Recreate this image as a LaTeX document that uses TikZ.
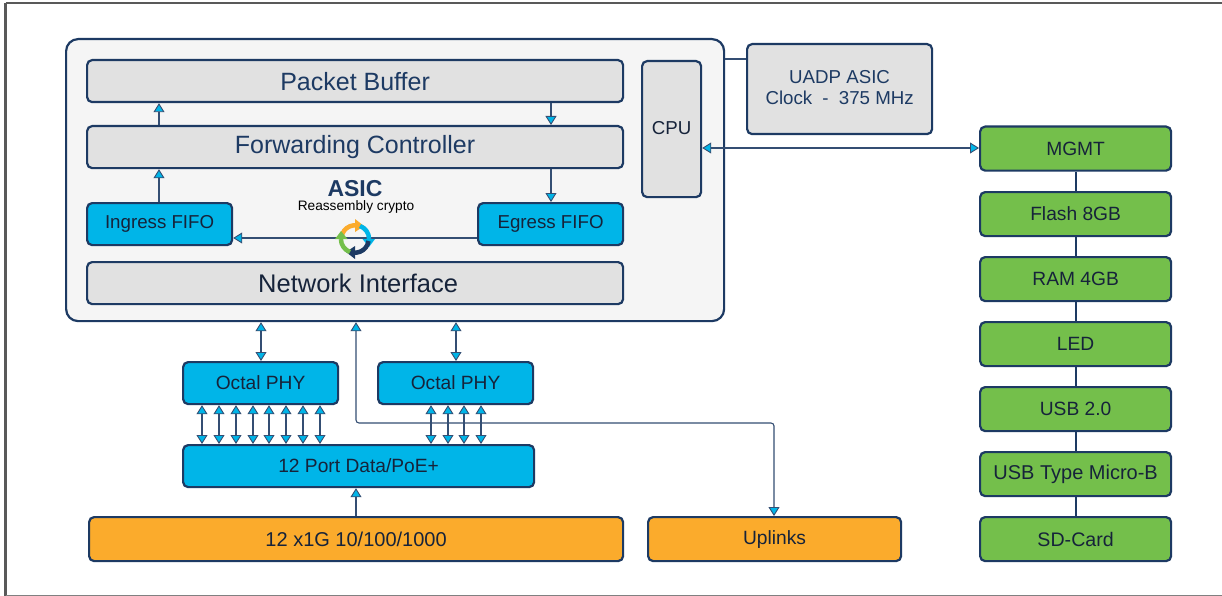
\documentclass[tikz,border=0pt]{standalone}
\usepackage{fontspec}
\setmainfont{Liberation Sans}
\usetikzlibrary{arrows.meta}
\definecolor{navy}{HTML}{1D3A63}
\definecolor{lightg}{HTML}{E1E1E1}
\definecolor{panel}{HTML}{F5F5F5}
\definecolor{cyanb}{HTML}{00B5E8}
\definecolor{greenb}{HTML}{74BF4B}
\definecolor{orangeb}{HTML}{FBAB2C}
\definecolor{ink}{HTML}{16233A}
\tikzset{
 x=1pt,y=-1pt,
 boxbase/.style={draw=navy,line width=2.2pt,rounded corners=5pt,inner sep=0pt,anchor=north west,align=center,text=ink},
 greybox/.style={boxbase,fill=lightg},
 cyanbox/.style={boxbase,fill=cyanb},
 greenbox/.style={boxbase,fill=greenb},
 orangebox/.style={boxbase,fill=orangeb},
 link/.style={draw=navy!90,line width=1.1pt},
 tipb/.style={link,{Triangle[fill=cyanb,length=9pt,width=11pt,line width=.9pt]}-{Triangle[fill=cyanb,length=9pt,width=11pt,line width=.9pt]}},
 tipe/.style={link,-{Triangle[fill=cyanb,length=9pt,width=11pt,line width=.9pt]}},
 big/.style={font=\fontsize{25}{28}\selectfont},
 mid/.style={font=\fontsize{18.7}{22}\selectfont},
 rowf/.style={font=\fontsize{19.2}{22}\selectfont},
}
\begin{document}
\begin{tikzpicture}
\useasboundingbox (1,1) rectangle (1223,597);
\fill[white] (1,1) rectangle (1223,597);
\draw[draw=black!65,line width=2.4pt] (6.5,4) -- (1224,4);
\draw[draw=black!65,line width=2.4pt] (6.5,4) -- (6.5,598);
\draw[draw=black!50,line width=1.4pt] (6.5,596.5) -- (1224,596.5);
% main panel
\node[boxbase,fill=panel,rounded corners=12pt,minimum width=658pt,minimum height=282pt] (asic) at (66,39) {};
\node[greybox,big,text=navy,minimum width=536pt,minimum height=42pt] (pb) at (87,60) {Packet Buffer};
\node[greybox,big,text=navy,minimum width=536pt,minimum height=42pt] (fc) at (87,126) {\raisebox{-1pt}{Forwarding Controller}};
\node[greybox,minimum width=536pt,minimum height=42pt] (ni) at (87,262) {\fontsize{25.5}{28}\selectfont\hspace{6pt}Network Interface};
\node[cyanbox,mid,minimum width=145pt,minimum height=42pt] (ing) at (87,203) {\raisebox{-1pt}{Ingress FIFO}};
\node[cyanbox,mid,minimum width=145pt,minimum height=42pt] (eg) at (478,203) {\raisebox{-1pt}{Egress FIFO}};
\node[greybox,mid,minimum width=59pt,minimum height=136pt] (cpu) at (642,61) {\raisebox{2pt}{CPU}};
\node[greybox,text=navy,font=\fontsize{18.7}{23}\selectfont,minimum width=185pt,minimum height=90pt] (uadp) at (747,44) {\raisebox{2pt}{UADP ASIC}\\\raisebox{4pt}{Clock\hspace{5pt} - \hspace{5pt}375 MHz}};
\node[text=navy,font=\fontsize{23}{26}\selectfont\bfseries,inner sep=0pt] (asiclab) at (356,190) {ASIC};
\node[font=\fontsize{13.7}{16}\selectfont,inner sep=0pt] (reas) at (357,208) {Reassembly crypto};
% lower
\node[cyanbox,rowf,minimum width=155pt,minimum height=42pt] (phya) at (183,362) {Octal PHY};
\node[cyanbox,rowf,minimum width=155pt,minimum height=42pt] (phyb) at (378,362) {Octal PHY};
\node[cyanbox,rowf,minimum width=351pt,minimum height=42pt] (poe) at (183,445) {\raisebox{-1pt}{12 Port Data/PoE+}};
\node[orangebox,font=\fontsize{20}{23}\selectfont,minimum width=534pt,minimum height=44pt] (ports) at (89,517) {12 x1G 10/100/1000};
\node[orangebox,rowf,minimum width=253pt,minimum height=44pt] (upl) at (648,517) {\raisebox{-1.5pt}{Uplinks}};
% right column
\foreach \nm/\yy/\tx in {mgmt/126.5/MGMT,flash/192/Flash 8GB,ram/257/RAM 4GB,led/322/LED,usb/387/USB 2.0,micro/452/{\fontsize{20}{22}\selectfont USB Type Micro-B},sd/517/{\fontsize{19.6}{22}\selectfont SD-Card}}{
 \node[greenbox,rowf,minimum width=191pt,minimum height=44pt] (\nm) at (980,\yy) {\tx};
}
\foreach \a/\b in {mgmt/flash,flash/ram,ram/led,led/usb,usb/micro,micro/sd}{
 \draw[link,line width=2pt,navy] (\a) -- (\b);
}
% connectors in asic
\draw[tipe] (fc.north -| 160,0) -- (pb.south -| 160,0);
\draw[tipe] (pb.south -| 552,0) -- (fc.north -| 552,0);
\draw[tipe] (ing.north -| 160,0) -- (fc.south -| 160,0);
\draw[tipe] (fc.south -| 552,0) -- (eg.north -| 552,0);
\draw[tipe] (eg.west |- 0,239) -- (ing.east |- 0,239);
% recycle icon
\begin{scope}[shift={(356,240)}]
 \draw[line width=4.5pt,orangeb] (-13.5,-2) arc[start angle=188,end angle=280,radius=13.6];
 \fill[orangeb] (0,-20) -- (9,-13) -- (0,-7) -- cycle;
 \draw[line width=4.5pt,cyanb] (5,-13) arc[start angle=-70,end angle=0,radius=13.8];
 \fill[cyanb] (7.5,0) -- (20,0) -- (14,8) -- cycle;
 \draw[line width=4.5pt,navy] (13.5,2) arc[start angle=8,end angle=100,radius=13.6];
 \fill[navy] (0,20) -- (-9,13) -- (0,7) -- cycle;
 \draw[line width=4.5pt,greenb] (-5,13) arc[start angle=110,end angle=180,radius=13.8];
 \fill[greenb] (-7.5,0) -- (-20,0) -- (-14,-8) -- cycle;
\end{scope}
% below asic
\draw[tipb] (phya.north -| 262,0) -- (asic.south -| 262,0);
\draw[tipb] (phyb.north -| 457,0) -- (asic.south -| 457,0);
\foreach \xx in {203,220,237,254,270,287,304,321,432,449,465,482}{
 \draw[tipb] (phya.south -| \xx,0) -- (poe.north -| \xx,0);
}
\draw[link,{Triangle[fill=cyanb,length=9pt,width=11pt,line width=.9pt]}-{Triangle[fill=cyanb,length=9pt,width=11pt,line width=.9pt]},rounded corners=3pt] (asic.south -| 357,0) -- (357,424) -- (775,424) -- (upl.north -| 775,0);
\draw[tipe] (ports.north -| 357,0) -- (poe.south -| 357,0);
% cpu links
\draw[tipb] (cpu.east |- 0,149) -- (mgmt.west |- 0,149);
\draw[link] (asic.east |- 0,60) -- (uadp.west |- 0,60);
\end{tikzpicture}
\end{document}
